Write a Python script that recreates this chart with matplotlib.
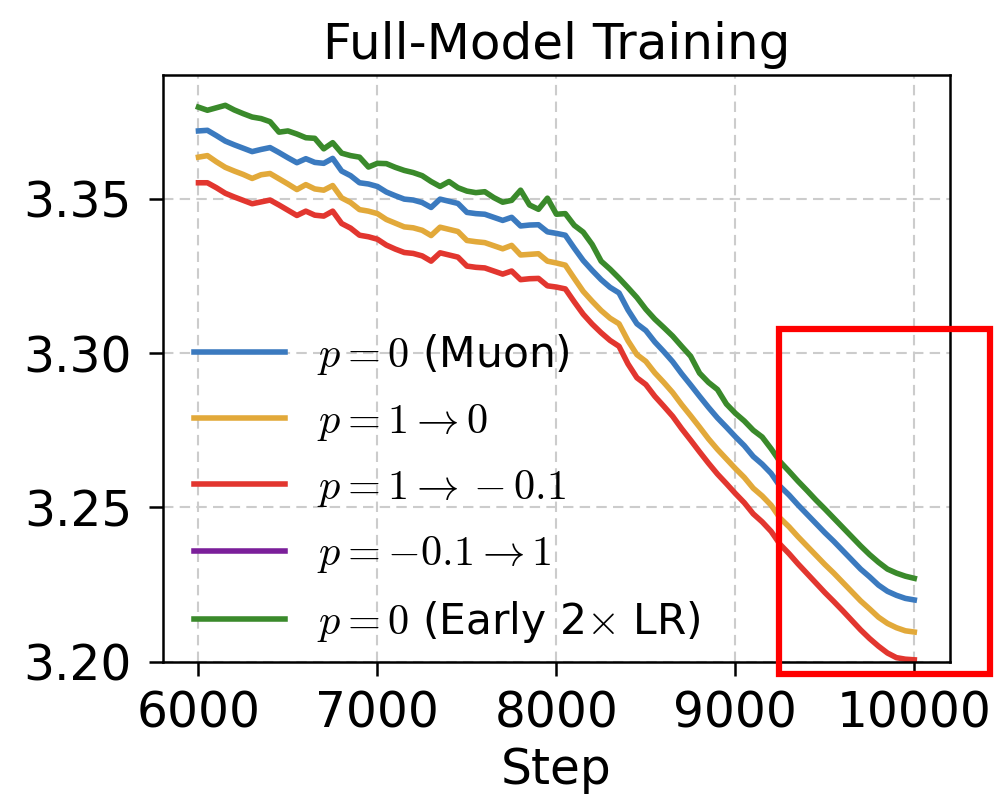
import matplotlib
matplotlib.use("Agg")
import matplotlib.pyplot as plt
from matplotlib.patches import Rectangle

plt.rcParams['mathtext.fontset'] = 'cm'

steps = list(range(6000, 10001, 50))

loss_muon = [3.3720, 3.3722, 3.3705, 3.3687, 3.3675, 3.3664, 3.3653, 3.3660, 3.3666, 3.3650,
             3.3633, 3.3617, 3.3630, 3.3618, 3.3615, 3.3631, 3.3590, 3.3575, 3.3552, 3.3548,
             3.3540, 3.3522, 3.3510, 3.3499, 3.3496, 3.3488, 3.3472, 3.3499, 3.3492, 3.3485,
             3.3456, 3.3452, 3.3450, 3.3440, 3.3430, 3.3440, 3.3412, 3.3415, 3.3416, 3.3393,
             3.3388, 3.3382, 3.3340, 3.3300, 3.3268, 3.3238, 3.3213, 3.3195, 3.3140, 3.3095,
             3.3073, 3.3036, 3.3005, 3.2972, 3.2933, 3.2897, 3.2860, 3.2824, 3.2790, 3.2760,
             3.2729, 3.2700, 3.2665, 3.2640, 3.2610, 3.2568, 3.2540, 3.2508, 3.2478, 3.2448,
             3.2418, 3.2390, 3.2360, 3.2330, 3.2300, 3.2275, 3.2248, 3.2228, 3.2215, 3.2205,
             3.2200]

loss_1_to_0 = [3.3635, 3.3640, 3.3620, 3.3602, 3.3590, 3.3579, 3.3566, 3.3578, 3.3582, 3.3565,
               3.3548, 3.3530, 3.3546, 3.3532, 3.3528, 3.3543, 3.3503, 3.3488, 3.3465, 3.3460,
               3.3452, 3.3433, 3.3421, 3.3409, 3.3406, 3.3398, 3.3381, 3.3408, 3.3401, 3.3394,
               3.3365, 3.3361, 3.3358, 3.3348, 3.3338, 3.3349, 3.3318, 3.3320, 3.3322, 3.3298,
               3.3292, 3.3285, 3.3242, 3.3200, 3.3168, 3.3138, 3.3113, 3.3095, 3.3040, 3.2995,
               3.2973, 3.2936, 3.2905, 3.2872, 3.2833, 3.2797, 3.2760, 3.2722, 3.2688, 3.2657,
               3.2626, 3.2597, 3.2562, 3.2537, 3.2507, 3.2465, 3.2437, 3.2405, 3.2375, 3.2345,
               3.2315, 3.2287, 3.2257, 3.2227, 3.2197, 3.2171, 3.2144, 3.2124, 3.2110, 3.2100,
               3.2096]

loss_1_to_m01 = [3.3552, 3.3552, 3.3536, 3.3518, 3.3506, 3.3495, 3.3484, 3.3490, 3.3496, 3.3480,
                 3.3463, 3.3446, 3.3460, 3.3447, 3.3444, 3.3460, 3.3420, 3.3405, 3.3382, 3.3377,
                 3.3369, 3.3350, 3.3337, 3.3326, 3.3323, 3.3315, 3.3298, 3.3325, 3.3318, 3.3311,
                 3.3282, 3.3278, 3.3276, 3.3266, 3.3256, 3.3266, 3.3238, 3.3241, 3.3242, 3.3218,
                 3.3214, 3.3208, 3.3166, 3.3126, 3.3094, 3.3066, 3.3041, 3.3022, 3.2965, 3.2920,
                 3.2898, 3.2860, 3.2828, 3.2795, 3.2755, 3.2718, 3.2680, 3.2643, 3.2608, 3.2577,
                 3.2545, 3.2515, 3.2479, 3.2453, 3.2422, 3.2380, 3.2350, 3.2317, 3.2286, 3.2255,
                 3.2224, 3.2195, 3.2165, 3.2134, 3.2103, 3.2075, 3.2050, 3.2028, 3.2013, 3.2008,
                 3.2006]

# not visible in the reference plot
steps_m01_to_1 = []
loss_m01_to_1 = []

loss_early_2x = [3.3797, 3.3787, 3.3795, 3.3803, 3.3788, 3.3776, 3.3765, 3.3760, 3.3750, 3.3716,
                 3.3720, 3.3710, 3.3698, 3.3696, 3.3662, 3.3682, 3.3648, 3.3640, 3.3635, 3.3603,
                 3.3615, 3.3614, 3.3602, 3.3592, 3.3585, 3.3575, 3.3556, 3.3540, 3.3556, 3.3536,
                 3.3525, 3.3520, 3.3523, 3.3504, 3.3489, 3.3495, 3.3528, 3.3480, 3.3466, 3.3502,
                 3.3450, 3.3452, 3.3414, 3.3392, 3.3352, 3.3298, 3.3272, 3.3243, 3.3212, 3.3180,
                 3.3142, 3.3110, 3.3083, 3.3055, 3.3022, 3.2990, 3.2935, 3.2905, 3.2882, 3.2835,
                 3.2805, 3.2780, 3.2750, 3.2728, 3.2690, 3.2648, 3.2617, 3.2585, 3.2555, 3.2524,
                 3.2495, 3.2465, 3.2435, 3.2405, 3.2375, 3.2347, 3.2322, 3.2300, 3.2287, 3.2277,
                 3.2270]

fig = plt.figure(figsize=(9.98, 8.02), dpi=100)
ax = fig.add_axes([0.163, 0.175, 0.789, 0.731])

lw = 4.0
ax.plot(steps, loss_muon, color='#3b7abf', lw=lw, label=r'$p=0$ (Muon)')
ax.plot(steps, loss_1_to_0, color='#e2a93a', lw=lw, label=r'$p=1\rightarrow0$')
ax.plot(steps, loss_1_to_m01, color='#e2362f', lw=lw, label=r'$p=1\rightarrow-0.1$')
ax.plot(steps_m01_to_1, loss_m01_to_1, color='#7b1f9a', lw=lw, label=r'$p=-0.1\rightarrow1$')
ax.plot(steps, loss_early_2x, color='#3a8a2b', lw=lw, label=r'$p=0$ (Early 2$\times$ LR)')

ax.set_xlim(5800, 10200)
ax.set_ylim(3.20, 3.39)
ax.set_xticks([6000, 7000, 8000, 9000, 10000])
ax.set_yticks([3.20, 3.25, 3.30, 3.35])
ax.set_yticklabels(['3.20', '3.25', '3.30', '3.35'])
ax.tick_params(labelsize=35, length=10, width=1.8)
ax.tick_params(axis='y', pad=12)
ax.tick_params(axis='x', pad=10)
for s in ax.spines.values():
    s.set_linewidth(1.8)
ax.grid(True, ls=(0, (5, 3)), color='#cccccc', lw=1.5)

ax.set_title('Full-Model Training', fontsize=36, pad=12)
ax.set_xlabel('Step', fontsize=35, labelpad=6)

ax.legend(loc='lower left', bbox_to_anchor=(0.018, 0.0), fontsize=30.5, frameon=False,
          handlelength=2.15, handletextpad=0.75, labelspacing=0.55, borderaxespad=0.0)

# red highlight box
fig.patches.append(Rectangle((0.781, 0.159), 0.211, 0.431, transform=fig.transFigure,
                             fill=False, edgecolor='#ff0000', lw=4.5))

fig.savefig('out.png', dpi=100)
